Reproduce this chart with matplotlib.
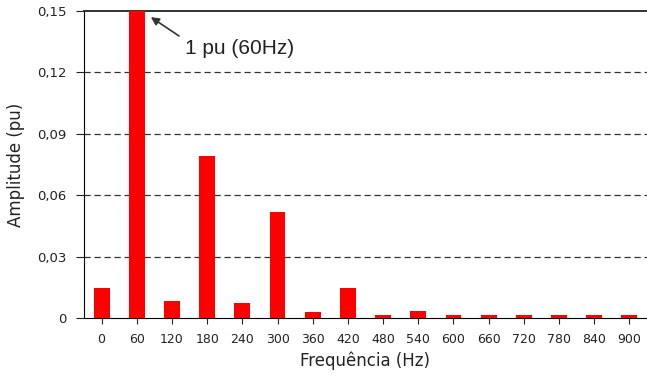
import matplotlib
matplotlib.use("Agg")
import matplotlib.pyplot as plt
from matplotlib.ticker import FixedLocator, FuncFormatter

freqs = ["0", "60", "120", "180", "240", "300", "360", "420", "480",
         "540", "600", "660", "720", "780", "840", "900"]
amps = [0.0147, 1.0, 0.0085, 0.079, 0.0072, 0.052, 0.0028, 0.0148, 0.0015,
        0.0036, 0.0015, 0.0015, 0.0015, 0.0015, 0.0015, 0.0015]
yticks = [0, 0.03, 0.06, 0.09, 0.12, 0.15]


def main():
    fig = plt.figure(figsize=(6.47, 3.83), dpi=100)
    ax = fig.add_axes([84 / 647, 1 - 318 / 383, 563 / 647, 307 / 383])

    x = list(range(len(freqs)))
    ax.bar(x, amps, width=0.45, color="#ff0000", zorder=3)

    ax.set_xlim(-0.5, len(freqs) - 0.5)
    ax.set_ylim(0, 0.15)
    ax.set_xticks(x)
    ax.set_xticklabels(freqs)
    ax.yaxis.set_major_locator(FixedLocator(yticks))
    ax.yaxis.set_major_formatter(
        FuncFormatter(lambda v, p: "0" if v == 0 else ("%.2f" % v).replace(".", ",")))

    for v in yticks[1:-1]:
        ax.axhline(v, color="#333333", lw=0.9, ls=(0, (5, 3)), zorder=1)

    ax.spines["right"].set_visible(False)
    ax.spines["top"].set_color("#222222")
    ax.spines["top"].set_linewidth(1.3)
    ax.spines["left"].set_color("black")
    ax.spines["bottom"].set_color("black")

    ax.tick_params(axis="x", labelsize=9, length=4, width=0.8, colors="#222222", pad=6.5)
    ax.tick_params(axis="y", labelsize=9.5, length=6, width=0.8, colors="#222222", pad=6.5)

    ax.set_xlabel("Frequência (Hz)", fontsize=12, color="#222222", labelpad=4)
    ax.set_ylabel("Amplitude (pu)", fontsize=12, color="#222222", labelpad=9)

    # seta + texto da fundamental
    ax.annotate("", xy=(1.40, 0.147), xytext=(2.20, 0.1378),
                annotation_clip=False,
                arrowprops=dict(arrowstyle="-|>", color="#333333", lw=1.2,
                                shrinkA=0, shrinkB=0, mutation_scale=12))
    ax.text(2.36, 0.1319, "1 pu (60Hz)", fontsize=15, fontfamily="Liberation Sans",
            color="#222222", va="center", ha="left")

    fig.savefig("out.png", dpi=100)


if __name__ == '__main__':
    main()
